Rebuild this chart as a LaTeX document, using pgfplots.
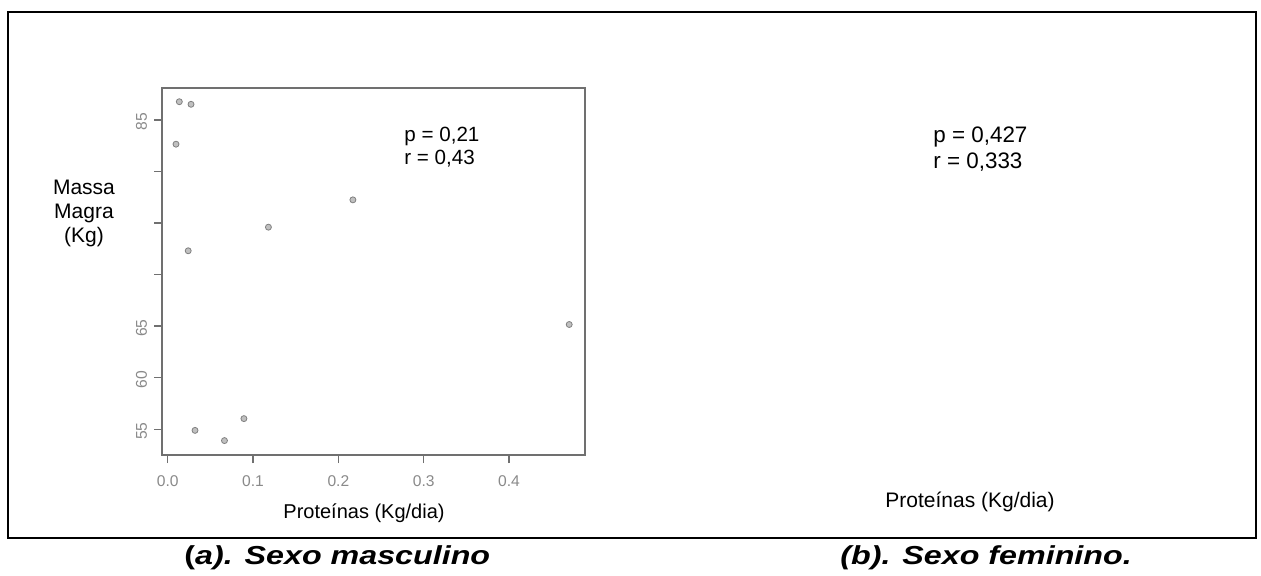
\documentclass[border=0pt]{standalone}
\usepackage{pgfplots}
\pgfplotsset{compat=1.18}
\usepackage{graphicx}
\usepackage{fontspec}
\setmainfont{Liberation Sans}
\definecolor{axgray}{HTML}{707070}
\definecolor{lblgray}{HTML}{8A8A8A}
\definecolor{ptedge}{HTML}{808080}
\definecolor{ptfill}{HTML}{C0C0C0}
\pgfplotstableread{
x y
0.0136 86.77
0.0273 86.52
0.0097 82.65
0.217 77.25
0.118 74.6
0.024 72.31
0.4705 65.16
0.032 54.89
0.0665 53.9
0.0893 56.03
}\masc
\begin{document}
\begin{tikzpicture}[x=0.5pt,y=0.5pt]
\useasboundingbox (0,0) rectangle (1261,575);
\fill[white] (0,0) rectangle (1261,575);
\draw[line width=1pt] (7.5,563.5) rectangle (1256,37);
\begin{axis}[
  at={(81pt,60pt)}, anchor=south west,
  scale only axis, width=211.5pt, height=183.5pt,
  xmin=-0.0067, xmax=0.489, ymin=52.5, ymax=88.1,
  axis line style={axgray, line width=0.7pt},
  tick style={axgray, line width=0.7pt},
  tick align=outside, major tick length=4pt,
  xtick pos=bottom, ytick pos=left,
  xtick={0,0.1,0.2,0.3,0.4},
  xticklabels={0.0,0.1,0.2,0.3,0.4},
  ytick={55,60,65,70,75,80,85},
  yticklabels={55,60,65,,,,85},
  xticklabel style={font=\fontsize{7.8}{8}\selectfont, text=lblgray, yshift=-3pt},
  yticklabel style={font=\fontsize{7.8}{8}\selectfont, text=lblgray, rotate=90, anchor=south, xshift=-1pt},
  clip=false,
]
\addplot[only marks, mark=*, mark size=1.5pt, mark options={draw=ptedge, fill=ptfill, line width=0.4pt}] table[x=x,y=y] {\masc};
\end{axis}
\node[align=center, font=\fontsize{10.5}{12}\selectfont] at (84,362) {Massa\\Magra\\(Kg)};
\node[anchor=base west, inner sep=0, font=\fontsize{10.3}{12}\selectfont] at (404,434) {p = 0,21};
\node[anchor=base west, inner sep=0, font=\fontsize{10.3}{12}\selectfont] at (404,411) {r = 0,43};
\node[anchor=base west, inner sep=0, font=\fontsize{11.2}{12}\selectfont] at (933,433) {p = 0,427};
\node[anchor=base west, inner sep=0, font=\fontsize{11.2}{12}\selectfont] at (933,407) {r = 0,333};
\node[anchor=base, inner sep=0, font=\fontsize{10}{12}\selectfont] at (364,57) {Proteínas (Kg/dia)};
\node[anchor=base, inner sep=0, font=\fontsize{10.5}{12}\selectfont] at (970,68) {Proteínas (Kg/dia)};
\node[anchor=base west, inner sep=0, font=\fontsize{13}{14}\selectfont\bfseries] at (184,11) {\scalebox{1.24}[1]{(\textit{a). Sexo masculino}}};
\node[anchor=base west, inner sep=0, font=\fontsize{13}{14}\selectfont\bfseries\itshape] at (840,11) {\scalebox{1.24}[1]{(b). Sexo feminino.}};
\end{tikzpicture}
\end{document}
